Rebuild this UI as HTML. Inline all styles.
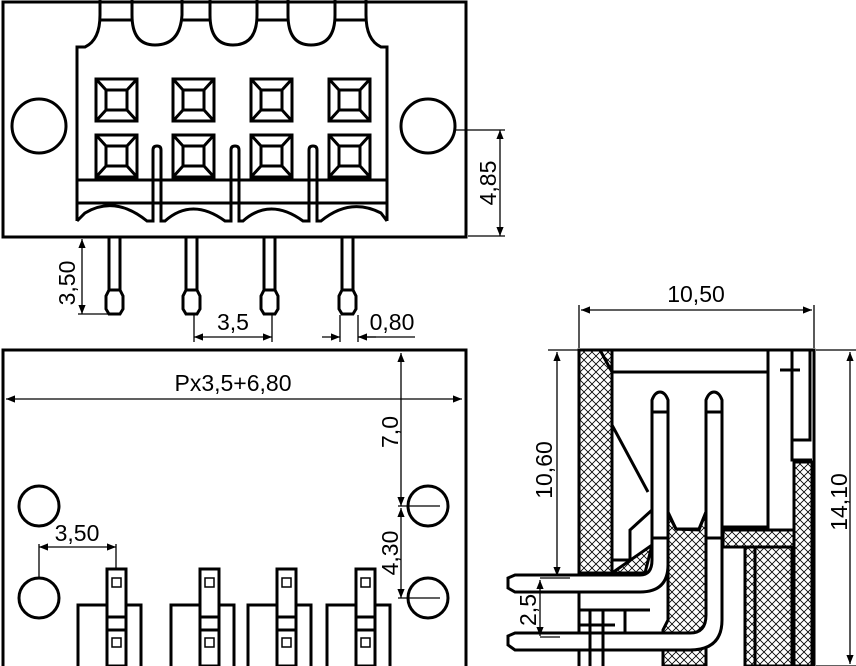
<!DOCTYPE html>
<html><head><meta charset="utf-8"><style>
html,body{margin:0;padding:0;background:#fff;}
svg{display:block;}
text{font-family:"Liberation Sans",Arial,sans-serif;font-size:23px;fill:#000;}
</style></head><body>
<svg width="856" height="666" viewBox="0 0 856 666" xmlns="http://www.w3.org/2000/svg">
<defs>
<pattern id="h" width="8" height="8" patternUnits="userSpaceOnUse">
<path d="M0 0L8 8M8 0L0 8" stroke="#000" stroke-width="0.8"/>
</pattern>
<marker id="a" viewBox="0 0 10 10" refX="10" refY="5" markerWidth="13" markerHeight="9" orient="auto-start-reverse" markerUnits="userSpaceOnUse"><path d="M0 1L10 5L0 9z" fill="#000"/></marker>
</defs>
<g fill="none" stroke="#000" stroke-width="3">
<rect x="3" y="2" width="463" height="235"/>
<circle cx="39" cy="126" r="27"/>
<circle cx="428" cy="126" r="27"/>
<path d="M77 221V47H85Q100 40 100 15V0M100 20H132M132 0V15Q132 45 155 45Q180 45 182 15V0M182 20H210M210 0V15Q210 45 233 45Q257 45 257 15V0M257 20H288M288 0V15Q288 45 311 45Q335 45 335 15V0M335 20H366M366 0V15Q366 40 381 47H387V221"/>
<path d="M77 180H387M77 203H387"/>
<path d="M77 221L85 213Q115 195 147 221H153V150Q153 146 157 146Q161 146 161 150V221H165Q192 197 225 221H231V150Q231 146 235 146Q239 146 239 150V221H243Q270 197 303 221H309V150Q309 146 313 146Q317 146 317 150V221H321Q350 197 381 213L387 221"/>
</g>
<g fill="none" stroke="#000" stroke-width="3">
<g id="sq"><rect x="96" y="79" width="41" height="42"/><rect x="106" y="90" width="21" height="20"/><path d="M96 79L106 90M137 79L127 90M96 121L106 110M137 121L127 110"/></g>
<use href="#sq" x="77"/><use href="#sq" x="155"/><use href="#sq" x="233"/>
<use href="#sq" y="56"/><use href="#sq" x="77" y="56"/><use href="#sq" x="155" y="56"/><use href="#sq" x="233" y="56"/>
<g id="pn"><path d="M109 237V290L106 296V309L109 314H120L123 309V296L120 290V237"/><path d="M109 290H120"/></g>
<use href="#pn" x="77"/><use href="#pn" x="155"/><use href="#pn" x="233"/>
</g>
<g stroke="#000" stroke-width="1.3" fill="none">
<path d="M78 314H108"/>
<path d="M82 239V314" marker-start="url(#a)" marker-end="url(#a)"/>
<path d="M194 315V342M272 315V342"/>
<path d="M194 337H272" marker-start="url(#a)" marker-end="url(#a)"/>
<path d="M340 315V342M358 315V342M358 337H415"/>
<path d="M322 337H340" marker-end="url(#a)"/><path d="M376 337H358" marker-end="url(#a)"/>
<path d="M455 130H505M468 236H505"/>
<path d="M500 130V236" marker-start="url(#a)" marker-end="url(#a)"/>
</g>
<text transform="translate(75 283) rotate(-90)" text-anchor="middle">3,50</text>
<text x="233" y="330" text-anchor="middle">3,5</text>
<text x="392" y="330" text-anchor="middle">0,80</text>
<text transform="translate(496 183) rotate(-90)" text-anchor="middle">4,85</text>

<g fill="none" stroke="#000" stroke-width="3">
<path d="M3 666V350H466V666"/>
<circle cx="39" cy="506" r="20"/><circle cx="39" cy="598" r="20"/>
<circle cx="428" cy="506" r="20"/><circle cx="428" cy="598" r="20"/>
</g>
<g fill="none" stroke="#000" stroke-width="3">
<g id="bp"><path d="M78 666V605H107M126 605H141V666"/><rect x="107" y="569" width="19" height="97"/><path d="M107 617H126M107 630H126"/><rect x="112" y="578" width="9" height="9" stroke-width="1.5"/><rect x="112" y="638" width="9" height="9" stroke-width="1.5"/></g>
<use href="#bp" x="93"/><use href="#bp" x="170"/><use href="#bp" x="249"/>
</g>
<g stroke="#000" stroke-width="1.3" fill="none">
<path d="M6 399H462" marker-start="url(#a)" marker-end="url(#a)"/>
<path d="M401 353V506" marker-start="url(#a)" marker-end="url(#a)"/>
<path d="M401 508V598" marker-start="url(#a)" marker-end="url(#a)"/>
<path d="M398 506H440M398 598H440"/>
<path d="M39 544V578M116 544V570"/>
<path d="M39 547H116" marker-start="url(#a)" marker-end="url(#a)"/>
</g>
<text x="233" y="391" text-anchor="middle">Px3,5+6,80</text>
<text transform="translate(398 432) rotate(-90)" text-anchor="middle">7,0</text>
<text transform="translate(398 553) rotate(-90)" text-anchor="middle">4,30</text>
<text x="77" y="541" text-anchor="middle">3,50</text>

<g stroke="#000" stroke-width="3">
<path d="M579 350H612V573H579Z" fill="url(#h)"/>
<path d="M794 462H812V666H794Z" fill="url(#h)"/>
<path d="M668 512L676 529L699 530L706 512V666H663V630L668 620Z" fill="url(#h)"/>
<path d="M723 530H794V666H745V547H723Z" fill="url(#h)"/>
<path d="M612 573H645L652 545Z" fill="url(#h)"/>
</g>
<g fill="none" stroke="#000" stroke-width="3">
<path d="M579 350H814V666M579 350V666"/>
<path d="M600 350L612 372H768M768 350V527H723M792 350V460H812M792 440H810V350"/>
<path d="M612 425L648 492"/>
<path d="M612 515V560H630V530L652 510"/>
<path d="M745 547H792V666M755 547V666"/>
<path d="M667 512L676 529H699L706 512"/>
<path d="M652 400Q655 392 660 392Q665 392 668 400V565Q668 592 640 592H515L508 588V578L515 575H640Q652 575 652 560Z" fill="#fff"/>
<path d="M706 400Q709 392 714 392Q719 392 722 400V620Q722 650 690 650H515L508 645V636L515 633H690Q706 633 706 615Z" fill="#fff"/>
<path d="M579 610H650M579 625H615M590 610V666M603 610V666M625 610V633"/>
<path d="M652 412H668M706 412H722M652 538H668M706 538H722"/>
<path d="M780 370H800"/>
</g>
<g stroke="#000" stroke-width="1.3" fill="none">
<path d="M579 305V348M814 305V348"/>
<path d="M581 310H812" marker-start="url(#a)" marker-end="url(#a)"/>
<path d="M548 350H578M816 350H856M816 666H856"/>
<path d="M557 352V576" marker-start="url(#a)" marker-end="url(#a)"/>
<path d="M540 578H570M540 637H560"/>
<path d="M540 580V636" marker-start="url(#a)" marker-end="url(#a)"/>
<path d="M850 352V664" marker-start="url(#a)" marker-end="url(#a)"/>
</g>
<text x="696" y="302" text-anchor="middle">10,50</text>
<text transform="translate(552 470) rotate(-90)" text-anchor="middle">10,60</text>
<text transform="translate(847 502) rotate(-90)" text-anchor="middle">14,10</text>
<text transform="translate(536 610) rotate(-90)" text-anchor="middle">2,5</text>
</svg>
</body></html>
